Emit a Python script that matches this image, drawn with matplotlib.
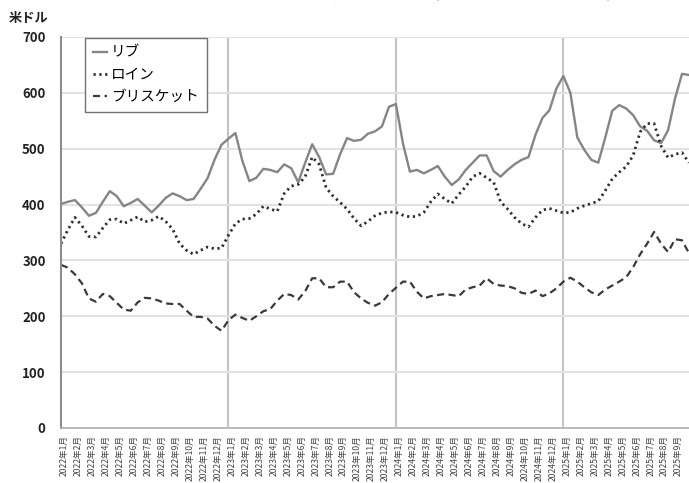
import numpy as np
import matplotlib
matplotlib.use("Agg")
import matplotlib.pyplot as plt

plt.rcParams['font.family'] = ['Noto Sans CJK JP', 'DejaVu Sans']

# ====== DATA (米ドル, half-month steps from 2022年1月) =======
rib = [401, 405, 408, 395, 380, 385, 405, 424, 415, 397,
       403, 410, 398, 386, 398, 412, 420, 415, 408, 410,
       428, 447, 480, 507, 518, 528, 478, 442, 448, 464,
       462, 458, 472, 465, 440, 475, 508, 485, 454, 455,
       490, 519, 514, 516, 527, 531, 540, 575, 580, 510,
       459, 462, 456, 462, 469, 450, 435, 445, 462, 475,
       488, 488, 460, 450, 462, 472, 480, 485, 525, 555,
       569, 608, 630, 600, 520, 498, 480, 475, 520, 568,
       578, 572, 560, 540, 532, 515, 510, 533, 590, 634,
       632]
loin = [330, 355, 377, 362, 343, 342, 358, 373, 374, 366,
        372, 378, 369, 372, 379, 370, 356, 330, 318, 311,
        318, 324, 321, 322, 345, 366, 374, 375, 383, 397,
        392, 388, 420, 433, 436, 450, 485, 472, 430, 415,
        404, 392, 375, 362, 370, 380, 385, 387, 386, 381,
        378, 379, 386, 405, 419, 410, 402, 418, 432, 450,
        456, 448, 440, 405, 392, 377, 366, 360, 377, 390,
        393, 389, 385, 386, 393, 398, 402, 406, 425, 446,
        458, 468, 488, 530, 545, 545, 505, 484, 490, 493,
        475]
brisket = [292, 287, 275, 259, 232, 226, 240, 236, 224, 212,
           210, 225, 233, 232, 228, 223, 222, 222, 210, 199,
           199, 196, 183, 174, 193, 203, 197, 192, 200, 209,
           213, 228, 240, 238, 230, 245, 268, 268, 252, 252,
           262, 262, 243, 232, 224, 219, 225, 240, 251, 262,
           262, 244, 232, 236, 238, 240, 238, 236, 248, 252,
           255, 268, 258, 255, 254, 250, 242, 240, 246, 236,
           241, 250, 262, 269, 262, 252, 243, 238, 248, 255,
           262, 270, 288, 311, 330, 351, 330, 315, 338, 336,
           313]
month_labels = [f"{y}年{m}月" for y in (2022, 2023, 2024, 2025) for m in range(1, 13)][:45]

x = np.arange(len(rib)) * 0.5

# ====== PLOT =======
fig = plt.figure(figsize=(6.89, 4.83), dpi=100)
ax = fig.add_axes([0.0885, 0.1139, 0.9115, 0.8095])

ax.plot(x, rib, color='#858585', lw=1.7, label='リブ')
ax.plot(x, loin, color='#2e2e2e', lw=2.0, linestyle=(0, (0.8, 1.3)), label='ロイン')
ax.plot(x, brisket, color='#3a3a3a', lw=1.6, linestyle=(0, (3.2, 2)), label='ブリスケット')

ax.set_xlim(0, 45)
ax.set_ylim(0, 700)
ax.set_yticks(range(0, 701, 100))
ax.set_xticks(np.arange(len(month_labels)) + 0.25)
ax.set_xticklabels(month_labels, rotation=90, fontsize=6.2, color='#444444')
ax.tick_params(axis='both', length=0)
ax.tick_params(axis='x', pad=5)
ax.tick_params(axis='y', pad=11, labelsize=9.5)
for lbl in ax.get_yticklabels():
    lbl.set_fontweight('bold')
    lbl.set_color('#222222')

ax.grid(axis='y', color='#e2e2e2', lw=1.5)
for m in (12, 24, 36):
    ax.axvline(m, color='#c4c4c4', lw=1.5, zorder=0.5)
ax.set_axisbelow(True)

for s in ('top', 'right'):
    ax.spines[s].set_visible(False)
ax.spines['left'].set_color('#8c8c8c')
ax.spines['left'].set_linewidth(1.5)
ax.spines['bottom'].set_color('#b0b0b0')
ax.spines['bottom'].set_linewidth(1.2)

leg = ax.legend(loc='upper left', bbox_to_anchor=(0.038, 0.998), borderaxespad=0,
                fontsize=10.5, handlelength=1.0, handletextpad=0.25, labelspacing=0.55,
                borderpad=0.55, fancybox=False, framealpha=1)
leg.get_frame().set_edgecolor('#707070')
leg.get_frame().set_linewidth(1.0)

fig.text(0.012, 0.962, '米ドル', fontsize=9.5, fontweight='bold', color='#222222', va='center')
fig.text(0.55, 1.013, '米国における牛肉の部位別卸売価格の推移（2022年1月～2025年9月）',
         fontsize=11, fontweight='bold', ha='center', va='center', color='#222222')

plt.savefig('out.png', dpi=100)
plt.close()
